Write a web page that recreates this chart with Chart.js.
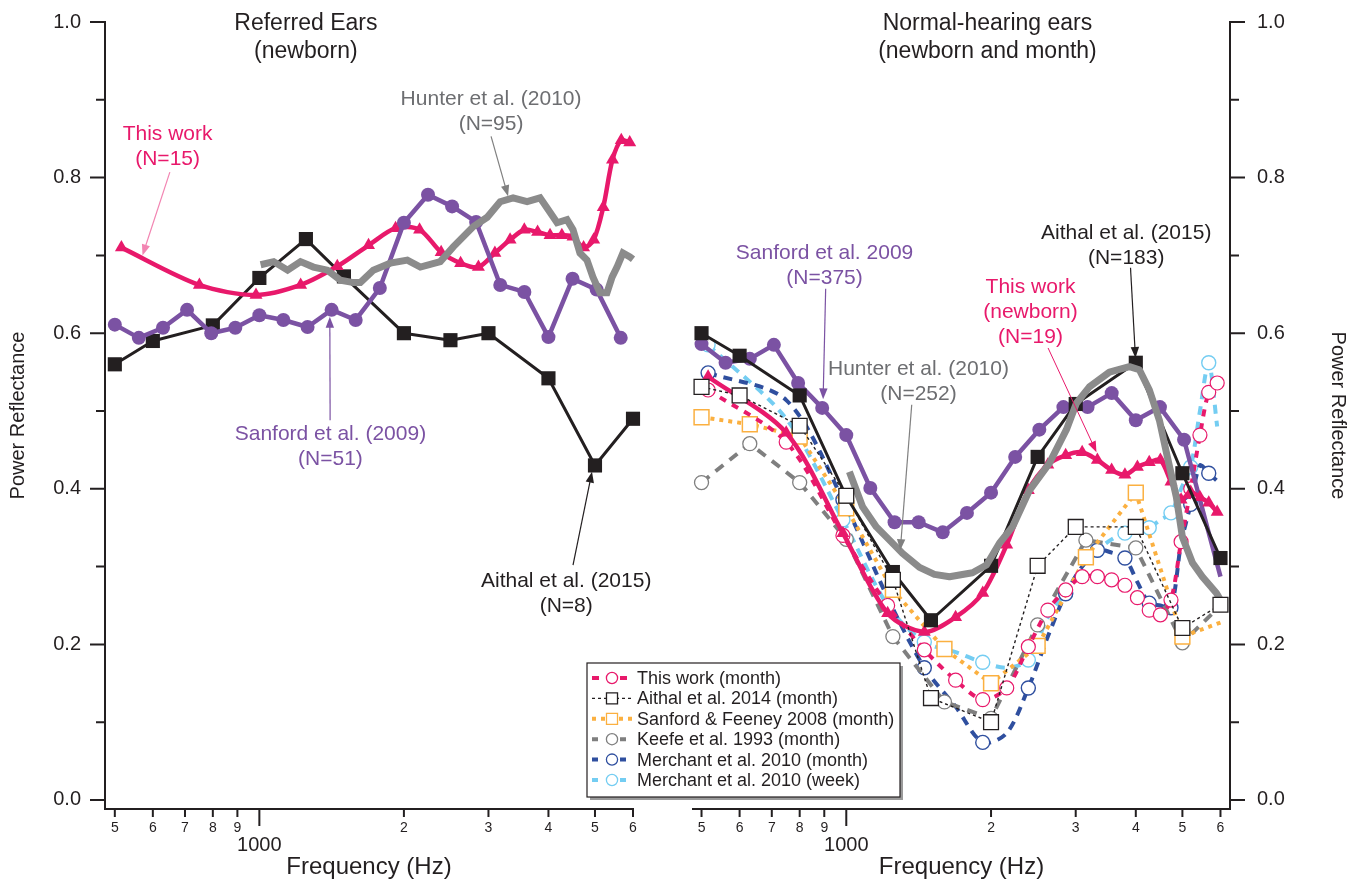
<!DOCTYPE html>
<html><head><meta charset="utf-8">
<script src="https://cdn.jsdelivr.net/npm/chart.js@4.4.1/dist/chart.umd.min.js"></script>
<style>
html,body{margin:0;padding:0;background:#fff;}
#wrap{position:relative;width:1356px;height:882px;background:#fff;}
canvas{position:absolute;left:0;top:0;}
</style></head><body>
<div id="wrap"><canvas id="cL" width="1356" height="882"></canvas><canvas id="cR" width="1356" height="882"></canvas></div>
<script>
// ---------------- DATA ----------------
const xTickValues = [500,600,700,800,900,1000,2000,3000,4000,5000,6000];
const xTickLabels = ['5','6','7','8','9','1000','2','3','4','5','6'];
const yTickValues = [0,0.1,0.2,0.3,0.4,0.5,0.6,0.7,0.8,0.9,1.0];
const yTickLabels = ['0.0','','0.2','','0.4','','0.6','','0.8','','1.0'];

// frequency lists (Hz)
const linFreq = [516,750,984,1219,1453,1688,1922,2156,2391,2625,2859,3094,3328,3563,3797,4031,4266,4500,4734,4969,5203,5438,5672,5906];
const aithalFreq = [500,600,800,1000,1250,1500,2000,2500,3000,4000,5000,6000];
const thirdOctFreq = [500,630,800,1000,1250,1600,2000,2500,3150,4000,5000,6000];
const sanRefFreq = [500,561,630,707,794,891,1000,1122,1260,1414,1587,1782,2000,2245,2520,2828,3175,3564,4000,4490,5040,5657];
const sanNormFreq = [500,561,630,707,794,891,1000,1122,1260,1414,1587,1782,2000,2245,2520,2828,3175,3564,4000,4490,5040,5657,6000];
const hunterRefFreq = [1006,1071,1145,1218,1296,1386,1475,1570,1623,1727,1874,2033,2164,2381,2534,2789,2982,3173,3376,3611,3843,3974,4169,4372,4500,4653,4812,4952,5121,5296,5427,5557,5717,5912,6000];
const hunterNormFreq = [1015,1081,1155,1230,1309,1420,1525,1639,1830,1957,2082,2216,2404,2645,2869,3010,3203,3526,3879,4069,4269,4479,4653,4858,5000,5246,5502,5883,6053];

// Referred ears (newborn)
const thisWorkReferred = [0.710,0.662,0.649,0.662,0.686,0.713,0.735,0.733,0.704,0.690,0.685,0.703,0.720,0.733,0.730,0.726,0.726,0.724,0.710,0.720,0.762,0.823,0.848,0.845];
const hunterReferred = [0.688,0.692,0.681,0.692,0.685,0.681,0.668,0.665,0.665,0.681,0.690,0.694,0.685,0.692,0.711,0.737,0.749,0.769,0.774,0.769,0.774,0.761,0.742,0.746,0.733,0.703,0.694,0.672,0.652,0.652,0.672,0.685,0.703,0.698,0.695];
const sanfordReferred = [0.611,0.594,0.607,0.630,0.600,0.607,0.623,0.617,0.608,0.630,0.617,0.658,0.742,0.778,0.763,0.743,0.662,0.653,0.595,0.670,0.656,0.594];
const aithalReferred = [0.560,0.590,0.610,0.671,0.721,0.673,0.600,0.591,0.600,0.542,0.430,0.490];

// Normal-hearing ears (newborn)
const thisWorkNewborn = [0.544,0.472,0.343,0.240,0.216,0.235,0.266,0.328,0.398,0.431,0.443,0.447,0.437,0.424,0.418,0.428,0.434,0.437,0.409,0.386,0.396,0.389,0.382,0.370];
const hunterNormal = [0.422,0.377,0.351,0.334,0.317,0.299,0.290,0.287,0.292,0.302,0.330,0.351,0.398,0.433,0.476,0.510,0.531,0.550,0.557,0.553,0.527,0.488,0.441,0.389,0.338,0.305,0.287,0.266,0.253];
const sanfordNormal = [0.586,0.562,0.567,0.585,0.536,0.504,0.469,0.401,0.357,0.357,0.344,0.369,0.395,0.441,0.476,0.505,0.505,0.523,0.488,0.505,0.463,0.346,0.287];
const aithalNormal = [0.600,0.571,0.520,0.390,0.293,0.231,0.301,0.441,0.509,0.562,0.420,0.311];

// Normal-hearing ears (month / week)
const thisWorkMonth = [0.527,0.460,0.340,0.250,0.193,0.154,0.129,0.144,0.197,0.244,0.270,0.287,0.287,0.283,0.276,0.260,0.244,0.238,0.257,0.332,0.400,0.469,0.524,0.536];
const aithal2014Month = [0.531,0.520,0.481,0.391,0.283,0.131,0.100,0.301,0.351,0.351,0.221,0.251];
const sanfordFeeneyMonth = [0.492,0.483,0.467,0.375,0.270,0.194,0.150,0.198,0.312,0.395,0.210,0.228];
const keefeMonth = [0.408,0.458,0.408,0.335,0.210,0.126,0.105,0.225,0.334,0.324,0.202,0.250];
const merchantMonth = [0.549,0.514,0.386,0.260,0.170,0.120,0.074,0.086,0.144,0.210,0.265,0.300,0.321,0.318,0.311,0.280,0.253,0.250,0.247,0.330,0.380,0.430,0.420,0.410];
const merchantWeek = [0.585,0.490,0.360,0.250,0.203,0.190,0.177,0.170,0.180,0.235,0.266,0.300,0.321,0.335,0.343,0.345,0.350,0.360,0.369,0.400,0.428,0.500,0.562,0.480];

// ---------------- STYLE ----------------
const FONT = "'Liberation Sans', Arial, Helvetica, sans-serif";
const INK = '#231f20', PINK = '#e8196b', PURPLE = '#7b52a3', GRAY = '#8b8b8b', TGRAY = '#6d6e71';
const ORANGE = '#fbb040', KGRAY = '#7f7f7f', DBLUE = '#2f4f9f', LBLUE = '#74cdf2';
Chart.defaults.font.family = FONT;
Chart.defaults.color = INK;

const pts = (fs, vs) => fs.map((f, i) => ({x: f, y: vs[i]}));
const radii = (n, r, skip) => Array.from({length: n}, (_, i) => skip(i) ? 0 : r);

// ---------------- PLUGINS ----------------
const axesPlugin = {
  id: 'axesDraw',
  beforeDatasetsDraw(chart, args, opts) {
    const ctx = chart.ctx, xs = chart.scales.x, ys = chart.scales.y, ca = chart.chartArea;
    ctx.save();
    ctx.strokeStyle = INK; ctx.lineWidth = 2; ctx.lineCap = 'butt';
    const ax = opts.side === 'left' ? ca.left : ca.right;
    ctx.beginPath();
    ctx.moveTo(ax, ys.getPixelForValue(1.0) - 1); ctx.lineTo(ax, ca.bottom);
    ctx.moveTo(ca.left - 1, ca.bottom); ctx.lineTo(ca.right + 1, ca.bottom);
    ys.ticks.forEach((t, i) => {
      const y = ys.getPixelForValue(t.value);
      const len = yTickLabels[i] ? 15 : 9;
      const d = opts.side === 'left' ? -len : len;
      ctx.moveTo(ax, y); ctx.lineTo(ax + d, y);
    });
    xs.ticks.forEach((t) => {
      const x = xs.getPixelForValue(t.value);
      const len = t.value === 1000 ? 17 : 8;
      ctx.moveTo(x, ca.bottom); ctx.lineTo(x, ca.bottom + len);
    });
    ctx.stroke();
    ctx.restore();
  }
};

function arrow(ctx, x1, y1, x2, y2, color, w) {
  const a = Math.atan2(y2 - y1, x2 - x1), hl = 11, hw = 4.2;
  ctx.strokeStyle = color; ctx.fillStyle = color; ctx.lineWidth = w;
  ctx.beginPath(); ctx.moveTo(x1, y1);
  ctx.lineTo(x2 - Math.cos(a) * hl * 0.8, y2 - Math.sin(a) * hl * 0.8); ctx.stroke();
  ctx.beginPath();
  ctx.moveTo(x2, y2);
  ctx.lineTo(x2 - Math.cos(a) * hl - Math.sin(a) * hw, y2 - Math.sin(a) * hl + Math.cos(a) * hw);
  ctx.lineTo(x2 - Math.cos(a) * hl + Math.sin(a) * hw, y2 - Math.sin(a) * hl - Math.cos(a) * hw);
  ctx.closePath(); ctx.fill();
}

const annotPlugin = {
  id: 'annot',
  afterDatasetsDraw(chart, args, opts) {
    const ctx = chart.ctx, xs = chart.scales.x, ys = chart.scales.y;
    ctx.save();
    (opts.items || []).forEach(it => {
      const x = xs.getPixelForValue(it.f), y = ys.getPixelForValue(it.v);
      ctx.font = (it.size || 21) + 'px ' + FONT;
      ctx.fillStyle = it.color; ctx.textAlign = 'center'; ctx.textBaseline = 'alphabetic';
      it.lines.forEach((ln, i) => ctx.fillText(ln, x, y + i * (it.gap || 25)));
      if (it.arrow) {
        const a = it.arrow;
        arrow(ctx, xs.getPixelForValue(a.f1), ys.getPixelForValue(a.v1),
              xs.getPixelForValue(a.f2), ys.getPixelForValue(a.v2), a.color || it.color, a.w || 1.2);
      }
    });
    ctx.restore();
  }
};

function marker(ctx, style, x, y, r, fill, stroke, lw) {
  ctx.beginPath();
  if (style === 'rect') { const s = r * Math.SQRT1_2; ctx.rect(x - s, y - s, 2 * s, 2 * s); }
  else ctx.arc(x, y, r, 0, Math.PI * 2);
  ctx.fillStyle = fill; ctx.fill();
  if (lw > 0) { ctx.lineWidth = lw; ctx.strokeStyle = stroke; ctx.stroke(); }
}

const legendPlugin = {
  id: 'legendBox',
  afterDraw(chart, args, opts) {
    if (!opts.show) return;
    const ctx = chart.ctx;
    const items = chart.data.datasets.filter(d => d.inLegend).sort((a, b) => a.inLegend - b.inLegend);
    ctx.save();
    ctx.fillStyle = '#9a9a9a';
    ctx.fillRect(opts.x + 3, opts.y + 3, opts.w, opts.h);
    ctx.fillStyle = '#fff';
    ctx.fillRect(opts.x, opts.y, opts.w, opts.h);
    ctx.strokeStyle = INK; ctx.lineWidth = 1.2;
    ctx.strokeRect(opts.x, opts.y, opts.w, opts.h);
    items.forEach((d, i) => {
      const y = opts.y + 15 + i * opts.rowH;
      ctx.save();
      ctx.strokeStyle = d.borderColor; ctx.lineWidth = d.borderWidth;
      ctx.setLineDash(d.legendDash || d.borderDash || []);
      ctx.beginPath(); ctx.moveTo(opts.x + 5, y); ctx.lineTo(opts.x + 45, y); ctx.stroke();
      ctx.restore();
      marker(ctx, d.pointStyle, opts.x + 25, y, d.pointStyle === 'rect' ? 7.8 : 5.6, '#fff', d.pointBorderColor, 1.3);
      ctx.font = '18px ' + FONT; ctx.fillStyle = INK; ctx.textAlign = 'left'; ctx.textBaseline = 'middle';
      ctx.fillText(d.label, opts.x + 50, y + 1);
    });
    ctx.restore();
  }
};

// ---------------- CHART FACTORY ----------------
const Y_MIN = -0.0116;
function makeChart(id, datasets, side, xmin, xmax, annItems, legendOpts) {
  const left = side === 'left';
  return new Chart(document.getElementById(id), {
    type: 'line',
    data: {datasets},
    options: {
      responsive: false, animation: false, events: [],
      layout: {padding: left ? {left: 0, right: 723, top: 22, bottom: 0} : {left: 693, right: 0, top: 22, bottom: 0}},
      elements: {line: {borderJoinStyle: 'round'}},
      plugins: {
        legend: {display: false}, tooltip: {enabled: false},
        axesDraw: {side},
        annot: {items: annItems},
        legendBox: legendOpts || {show: false}
      },
      scales: {
        x: {
          type: 'logarithmic', position: 'bottom', min: xmin, max: xmax,
          afterBuildTicks: s => { s.ticks = xTickValues.map(v => ({value: v})); },
          afterFit: s => { s.height = 73; s.paddingLeft = 0; s.paddingRight = 0; },
          grid: {display: false, drawTicks: false}, border: {display: false},
          ticks: {
            autoSkip: false, maxRotation: 0, minRotation: 0, padding: 11, color: INK,
            callback: (v, i) => xTickValues[i] === 1000 ? ['', xTickLabels[i]] : xTickLabels[i],
            font: c => (c.tick && c.tick.value === 1000) ? {size: 20, lineHeight: 0.85, family: FONT} : {size: 14, family: FONT}
          },
          title: {display: true, text: 'Frequency (Hz)', color: INK, font: {size: 24, family: FONT}, padding: {top: 0, bottom: 0}}
        },
        y: {
          type: 'linear', position: side, min: Y_MIN, max: 1.0,
          afterBuildTicks: s => { s.ticks = yTickValues.map(v => ({value: v})); },
          afterFit: s => { s.width = left ? 105 : 126; s.paddingTop = 0; s.paddingBottom = 0; },
          grid: {display: false, drawTicks: false}, border: {display: false},
          ticks: {autoSkip: false, padding: left ? 24 : 27, color: INK, font: {size: 20, family: FONT},
                  callback: (v, i) => yTickLabels[i]},
          title: {display: true, text: 'Power Reflectance', color: INK, font: {size: 20, family: FONT}, padding: {top: 6, bottom: 0}}
        }
      }
    },
    plugins: [axesPlugin, annotPlugin, legendPlugin]
  });
}

// ---------------- LEFT PANEL ----------------
const leftSets = [
  {label: 'Hunter et al. (2010)', data: pts(hunterRefFreq, hunterReferred), borderColor: GRAY, borderWidth: 7,
   pointRadius: 0, tension: 0, clip: false, borderJoinStyle: 'miter'},
  {label: 'Sanford et al. (2009)', data: pts(sanRefFreq, sanfordReferred), borderColor: PURPLE, borderWidth: 4.5,
   pointStyle: 'circle', pointRadius: 7, pointBackgroundColor: PURPLE, pointBorderColor: PURPLE, pointBorderWidth: 0, clip: false},
  {label: 'This work', data: pts(linFreq, thisWorkReferred), borderColor: PINK, borderWidth: 4.5, tension: 0.3,
   pointStyle: 'triangle', pointRadius: 7.5, pointBackgroundColor: PINK, pointBorderColor: PINK, pointBorderWidth: 0, clip: false},
  {label: 'Aithal et al. (2015)', data: pts(aithalFreq, aithalReferred), borderColor: INK, borderWidth: 3,
   pointStyle: 'rect', pointRadius: 10, pointBackgroundColor: INK, pointBorderColor: INK, pointBorderWidth: 0, clip: false}
];
const leftAnn = [
  {lines: ['Referred Ears', '(newborn)'], f: 1250, v: 0.9897, color: INK, size: 23, gap: 28},
  {lines: ['This work', '(N=15)'], f: 644, v: 0.8483, color: PINK,
   arrow: {f1: 651, v1: 0.807, f2: 571, v2: 0.700, color: '#f285b2'}},
  {lines: ['Hunter et al. (2010)', '(N=95)'], f: 3038, v: 0.8933, color: TGRAY,
   arrow: {f1: 3038, v1: 0.853, f2: 3296, v2: 0.776, color: '#808080'}},
  {lines: ['Sanford et al. (2009)', '(N=51)'], f: 1406, v: 0.4627, color: PURPLE,
   arrow: {f1: 1404, v1: 0.488, f2: 1402, v2: 0.621}},
  {lines: ['Aithal et al. (2015)', '(N=8)'], f: 4355, v: 0.2738, color: INK,
   arrow: {f1: 4500, v1: 0.302, f2: 4929, v2: 0.422}}
];
makeChart('cL', leftSets, 'left', 477, 6000, leftAnn);

// ---------------- RIGHT PANEL ----------------
const rightSets = [
  {label: 'Aithal et al. 2014 (month)', inLegend: 2, data: pts(aithalFreq, aithal2014Month), borderColor: INK, borderWidth: 1.4,
   borderDash: [3, 3], pointStyle: 'rect', pointRadius: 10.5, pointBackgroundColor: '#fff', pointBorderColor: INK, pointBorderWidth: 1.3, clip: false},
  {label: 'Hunter et al. (2010) N=252', data: pts(hunterNormFreq, hunterNormal), borderColor: GRAY, borderWidth: 7,
   pointRadius: 0, tension: 0, clip: false},
  {label: 'Aithal et al. (2015) N=183', data: pts(aithalFreq, aithalNormal), borderColor: INK, borderWidth: 3,
   pointStyle: 'rect', pointRadius: 10, pointBackgroundColor: INK, pointBorderColor: INK, pointBorderWidth: 0, clip: false},
  {label: 'This work (newborn)', data: pts(linFreq, thisWorkNewborn), borderColor: PINK, borderWidth: 4.5, tension: 0.3,
   pointStyle: 'triangle', pointRadius: 7.5, pointBackgroundColor: PINK, pointBorderColor: PINK, pointBorderWidth: 0, clip: false},
  {label: 'Sanford et al. 2009 N=375', data: pts(sanNormFreq, sanfordNormal), borderColor: PURPLE, borderWidth: 4.5,
   pointStyle: 'circle', pointRadius: radii(sanNormFreq.length, 7, i => i >= sanNormFreq.length - 2),
   pointBackgroundColor: PURPLE, pointBorderColor: PURPLE, pointBorderWidth: 0, clip: false},
  {label: 'This work (month)', inLegend: 1, data: pts(linFreq, thisWorkMonth), borderColor: PINK, borderWidth: 4, tension: 0.3,
   borderDash: [7, 7], pointStyle: 'circle', pointRadius: 7, pointBackgroundColor: '#fff', pointBorderColor: PINK, pointBorderWidth: 1.2, clip: false},
  {label: 'Sanford & Feeney 2008 (month)', inLegend: 3, data: pts(thirdOctFreq, sanfordFeeneyMonth), borderColor: ORANGE, borderWidth: 4,
   borderDash: [4, 5], pointStyle: 'rect', pointRadius: radii(thirdOctFreq.length, 10.5, i => i === thirdOctFreq.length - 1),
   pointBackgroundColor: '#fff', pointBorderColor: ORANGE, pointBorderWidth: 1.5, clip: false},
  {label: 'Keefe et al. 1993 (month)', inLegend: 4, data: pts(thirdOctFreq, keefeMonth), borderColor: KGRAY, borderWidth: 4,
   borderDash: [10, 8], legendDash: [6, 8], pointStyle: 'circle', pointRadius: radii(thirdOctFreq.length, 7, i => i === thirdOctFreq.length - 1),
   pointBackgroundColor: '#fff', pointBorderColor: KGRAY, pointBorderWidth: 1.3, clip: false},
  {label: 'Merchant et al. 2010 (month)', inLegend: 5, data: pts(linFreq, merchantMonth), borderColor: DBLUE, borderWidth: 4, tension: 0.3,
   borderDash: [9, 7], legendDash: [6, 8], pointStyle: 'circle', pointRadius: radii(linFreq.length, 7, i => i % 2 === 1),
   pointBackgroundColor: '#fff', pointBorderColor: DBLUE, pointBorderWidth: 1.4, clip: false},
  {label: 'Merchant et al. 2010 (week)', inLegend: 6, data: pts(linFreq, merchantWeek), borderColor: LBLUE, borderWidth: 4, tension: 0.3,
   borderDash: [9, 7], legendDash: [6, 8], pointStyle: 'circle', pointRadius: radii(linFreq.length, 7, i => i % 2 === 1),
   pointBackgroundColor: '#fff', pointBorderColor: LBLUE, pointBorderWidth: 1.4, clip: false}
];
const rightAnn = [
  {lines: ['Normal-hearing ears', '(newborn and month)'], f: 1966, v: 0.9897, color: INK, size: 23, gap: 28},
  {lines: ['Sanford et al. 2009', '(N=375)'], f: 901, v: 0.6954, color: PURPLE,
   arrow: {f1: 906, v1: 0.657, f2: 895, v2: 0.515}},
  {lines: ['Hunter et al. (2010)', '(N=252)'], f: 1413, v: 0.5463, color: TGRAY,
   arrow: {f1: 1368, v1: 0.508, f2: 1295, v2: 0.321, color: '#808080'}},
  {lines: ['This work', '(newborn)', '(N=19)'], f: 2416, v: 0.6517, color: PINK,
   arrow: {f1: 2628, v1: 0.581, f2: 3314, v2: 0.447, w: 1}},
  {lines: ['Aithal et al. (2015)', '(N=183)'], f: 3820, v: 0.7211, color: INK,
   arrow: {f1: 3900, v1: 0.684, f2: 3994, v2: 0.568}}
];
makeChart('cR', rightSets, 'right', 480, 6280, rightAnn, {show: true, x: 587, y: 663, w: 313, h: 134, rowH: 20.4});
</script>
</body></html>
